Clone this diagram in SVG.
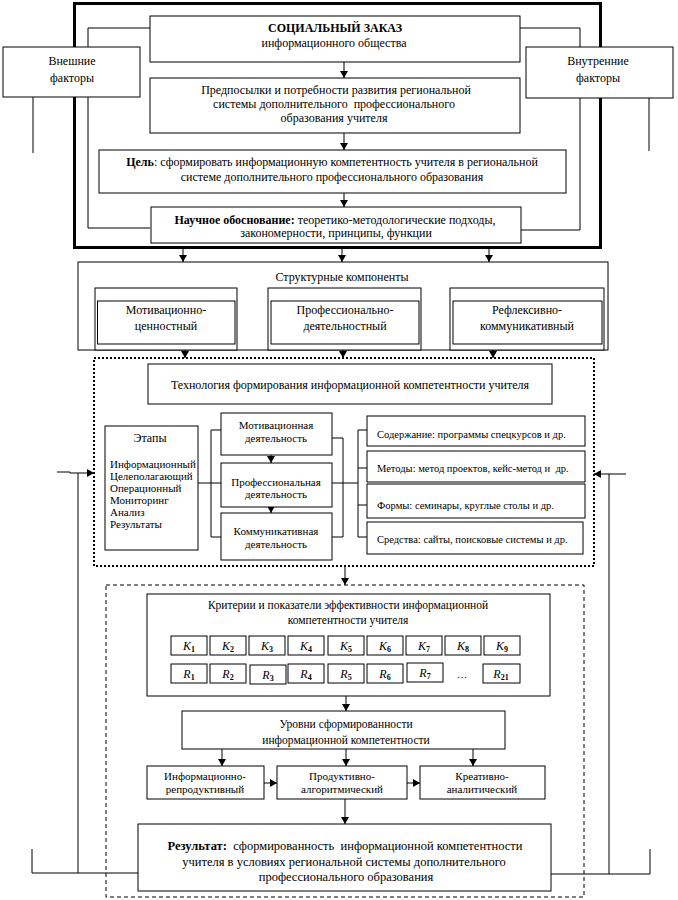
<svg xmlns="http://www.w3.org/2000/svg" width="678" height="900" viewBox="0 0 678 900" font-family="'Liberation Serif', 'Times New Roman', 'DejaVu Serif', serif">
<style>
text{font-family:"Liberation Serif","Times New Roman","DejaVu Serif",serif;font-size:12px;fill:#000;text-anchor:middle}
.s11{font-size:11px}
.s10{font-size:10.5px}
.l{text-anchor:start}
.b{font-weight:bold}
.box{fill:#fff;stroke:#000;stroke-width:1}
.ln{fill:none;stroke:#000;stroke-width:1}
.ar{fill:none;stroke:#000;stroke-width:1;marker-end:url(#ah)}
.dot{fill:none;stroke:#000;stroke-width:2;stroke-dasharray:2 2}
.dash{fill:none;stroke:#000;stroke-width:1;stroke-dasharray:4 3}
.k{font-style:italic;font-size:12px}
.sub{font-size:8px;font-weight:bold;font-style:normal}
</style>
<defs>
<marker id="ah" markerWidth="7" markerHeight="8" refX="7" refY="4" orient="auto" markerUnits="userSpaceOnUse">
<path d="M0,0 L7,4 L0,8 z" fill="#000"/>
</marker>
</defs>
<rect width="678" height="900" fill="#fff"/>

<g id="frame">
<rect x="74.5" y="3.5" width="526" height="244" fill="none" stroke="#000" stroke-width="3"/>
<rect x="78" y="262" width="530" height="88" class="box"/>
<rect x="94" y="358" width="500" height="208" class="dot"/>
<rect x="106" y="585" width="478" height="312" class="dash"/>
</g>

<g id="connectors">
<polyline class="ln" points="150,28 88,28 88,228 150,228"/>
<polyline class="ln" points="520,28 580,28 580,230 521,230"/>
<line class="ln" x1="33" y1="97" x2="33" y2="153"/>
<line class="ln" x1="649" y1="97" x2="649" y2="151"/>
<line class="ar" x1="344" y1="62" x2="344" y2="78"/>
<line class="ar" x1="344" y1="133" x2="344" y2="150"/>
<line class="ar" x1="344" y1="193" x2="344" y2="207"/>
<line class="ar" x1="183" y1="249" x2="183" y2="262"/>
<line class="ar" x1="342" y1="249" x2="342" y2="262"/>
<line class="ar" x1="489" y1="249" x2="489" y2="262"/>
<line class="ar" x1="185" y1="350" x2="185" y2="358"/>
<line class="ar" x1="343" y1="350" x2="343" y2="358"/>
<line class="ar" x1="493" y1="350" x2="493" y2="358"/>
<polyline class="ln" points="221,430 211,430 211,537 222,537"/>
<line class="ln" x1="198" y1="483" x2="221" y2="483"/>
<polyline class="ln" points="332,438 343,438 343,537 332,537"/>
<line class="ln" x1="332" y1="483" x2="358" y2="483"/>
<polyline class="ln" points="367,430 358,430 358,537 367,537"/>
<line class="ln" x1="358" y1="468" x2="367" y2="468"/>
<line class="ln" x1="358" y1="505" x2="367" y2="505"/>
<line class="ar" x1="271" y1="455" x2="271" y2="463"/>
<line class="ar" x1="271" y1="507" x2="271" y2="513"/>
<polyline class="ln" points="57,472 70,472 70,473 78,473"/>
<line class="ar" x1="78" y1="473" x2="94" y2="473"/>
<polyline class="ln" points="78,473 78,873 32,873 32,849"/>
<line class="ln" x1="78" y1="873" x2="138" y2="873"/>
<line class="ar" x1="626" y1="474" x2="594" y2="474"/>
<polyline class="ln" points="609,474 609,874 551,874"/>
<polyline class="ln" points="609,874 650,874 650,849"/>
<line class="ar" x1="345" y1="566" x2="345" y2="585"/>
<line class="ar" x1="346" y1="696" x2="346" y2="711"/>
<line class="ar" x1="222" y1="749" x2="222" y2="766"/>
<line class="ar" x1="346" y1="749" x2="346" y2="766"/>
<line class="ar" x1="473" y1="749" x2="473" y2="766"/>
<line class="ar" x1="264" y1="783" x2="277" y2="783"/>
<line class="ar" x1="407" y1="783" x2="420" y2="783"/>
<line class="ar" x1="345" y1="799" x2="345" y2="824"/>
</g>

<g id="n-social">
<rect x="150" y="16" width="370" height="46" class="box"/>
<text x="335" y="32" class="b">СОЦИАЛЬНЫЙ ЗАКАЗ</text>
<text x="334" y="47">информационного общества</text>
</g>
<g id="n-external">
<rect x="3" y="47" width="137" height="50" class="box"/>
<text x="72" y="65">Внешние</text>
<text x="72" y="82">факторы</text>
</g>
<g id="n-internal">
<rect x="526" y="47" width="147" height="51" class="box"/>
<text x="598" y="65">Внутренние</text>
<text x="598" y="82">факторы</text>
</g>
<g id="n-prereq">
<rect x="150" y="78" width="370" height="55" class="box"/>
<text x="336" y="94">Предпосылки и потребности развития региональной</text>
<text x="334" y="108" xml:space="preserve">системы дополнительного  профессионального</text>
<text x="334" y="122">образования учителя</text>
</g>
<g id="n-goal">
<rect x="99" y="150" width="467" height="43" class="box"/>
<text x="332" y="166"><tspan class="b">Цель</tspan>: сформировать информационную компетентность учителя в региональной</text>
<text x="332" y="181">системе дополнительного профессионального образования</text>
</g>
<g id="n-science">
<rect x="151" y="207" width="370" height="36" class="box"/>
<text x="335" y="224"><tspan class="b">Научное обоснование:</tspan> теоретико-методологические подходы,</text>
<text x="336" y="237">закономерности, принципы, функции</text>
</g>

<g id="n-structure">
<text x="342" y="281">Структурные компоненты</text>
<rect x="95" y="288" width="142" height="62" class="box"/>
<rect x="97.5" y="301" width="137.5" height="43" class="box"/>
<text x="166" y="314">Мотивационно-</text>
<text x="166" y="330">ценностный</text>
<rect x="268" y="288" width="153" height="62" class="box"/>
<rect x="271" y="301" width="148" height="43" class="box"/>
<text x="345" y="314">Профессионально-</text>
<text x="345" y="330">деятельностный</text>
<rect x="450" y="288" width="154" height="62" class="box"/>
<rect x="453" y="301" width="149" height="43" class="box"/>
<text x="527" y="314">Рефлексивно-</text>
<text x="527" y="330">коммуникативный</text>
</g>

<g id="n-tech">
<rect x="148" y="364" width="404" height="40" class="box"/>
<text x="350" y="389">Технология формирования информационной компетентности учителя</text>
</g>
<g id="n-stages">
<rect x="105" y="426" width="93" height="124" class="box"/>
<text x="150" y="442">Этапы</text>
<text x="110" y="468" class="s11 l">Информационный</text>
<text x="110" y="480" class="s11 l">Целеполагающий</text>
<text x="110" y="492" class="s11 l">Операционный</text>
<text x="110" y="504" class="s11 l">Мониторинг</text>
<text x="110" y="516" class="s11 l">Анализ</text>
<text x="110" y="528" class="s11 l">Результаты</text>
</g>
<g id="n-motiv">
<rect x="221" y="413" width="111" height="42" class="box"/>
<text x="276" y="429" class="s11">Мотивационная</text>
<text x="276" y="442" class="s11">деятельность</text>
</g>
<g id="n-prof">
<rect x="221" y="463" width="111" height="44" class="box"/>
<text x="276" y="486" class="s11">Профессиональная</text>
<text x="276" y="498" class="s11">деятельность</text>
</g>
<g id="n-comm">
<rect x="221" y="513" width="111" height="47" class="box"/>
<text x="276" y="535" class="s11">Коммуникативная</text>
<text x="276" y="548" class="s11">деятельность</text>
</g>
<g id="n-content">
<rect x="367" y="416" width="218" height="30" class="box"/>
<text x="377" y="438" class="s10 l">Содержание: программы спецкурсов и др.</text>
</g>
<g id="n-methods">
<rect x="367" y="451" width="218" height="31" class="box"/>
<text x="377" y="472" class="s10 l" xml:space="preserve">Методы: метод проектов, кейс-метод и  др.</text>
</g>
<g id="n-forms">
<rect x="367" y="484" width="218" height="34" class="box"/>
<text x="377" y="509" class="s10 l">Формы: семинары, круглые столы и др.</text>
</g>
<g id="n-means">
<rect x="367" y="522" width="216" height="32" class="box"/>
<text x="377" y="543" class="s10 l">Средства: сайты, поисковые системы и др.</text>
</g>

<g id="n-criteria">
<rect x="147" y="594" width="403" height="102" class="box"/>
<text x="348" y="609" style="font-size:11.5px">Критерии и показатели эффективности информационной</text>
<text x="348" y="624" style="font-size:11.5px">компетентности учителя</text>
<rect x="171" y="636" width="36" height="19" class="box"/><text x="189" y="650" class="k">K<tspan class="sub" dy="2">1</tspan></text>
<rect x="210" y="636" width="36" height="19" class="box"/><text x="228" y="650" class="k">K<tspan class="sub" dy="2">2</tspan></text>
<rect x="249" y="636" width="36" height="19" class="box"/><text x="267" y="650" class="k">K<tspan class="sub" dy="2">3</tspan></text>
<rect x="288" y="636" width="36" height="19" class="box"/><text x="306" y="650" class="k">K<tspan class="sub" dy="2">4</tspan></text>
<rect x="328" y="636" width="36" height="19" class="box"/><text x="346" y="650" class="k">K<tspan class="sub" dy="2">5</tspan></text>
<rect x="367" y="636" width="36" height="19" class="box"/><text x="385" y="650" class="k">K<tspan class="sub" dy="2">6</tspan></text>
<rect x="406" y="636" width="36" height="19" class="box"/><text x="424" y="650" class="k">K<tspan class="sub" dy="2">7</tspan></text>
<rect x="445" y="636" width="36" height="19" class="box"/><text x="463" y="650" class="k">K<tspan class="sub" dy="2">8</tspan></text>
<rect x="484" y="636" width="36" height="19" class="box"/><text x="502" y="650" class="k">K<tspan class="sub" dy="2">9</tspan></text>
<rect x="171" y="664" width="36" height="19" class="box"/><text x="189" y="678" class="k">R<tspan class="sub" dy="2">1</tspan></text>
<rect x="210" y="664" width="36" height="19" class="box"/><text x="228" y="678" class="k">R<tspan class="sub" dy="2">2</tspan></text>
<rect x="250" y="665" width="36" height="19" class="box"/><text x="268" y="679" class="k">R<tspan class="sub" dy="2">3</tspan></text>
<rect x="288" y="664" width="36" height="19" class="box"/><text x="306" y="678" class="k">R<tspan class="sub" dy="2">4</tspan></text>
<rect x="328" y="664" width="36" height="19" class="box"/><text x="346" y="678" class="k">R<tspan class="sub" dy="2">5</tspan></text>
<rect x="367" y="664" width="36" height="19" class="box"/><text x="385" y="678" class="k">R<tspan class="sub" dy="2">6</tspan></text>
<rect x="407" y="663" width="36" height="19" class="box"/><text x="425" y="677" class="k">R<tspan class="sub" dy="2">7</tspan></text>
<text x="462" y="678" class="s10">…</text>
<rect x="483" y="664" width="37" height="19" class="box"/><text x="501" y="678" class="k">R<tspan class="sub" dy="2">21</tspan></text>
</g>

<g id="n-levels">
<rect x="182" y="711" width="323" height="38" class="box"/>
<text x="346" y="728" style="font-size:11.5px">Уровни сформированности</text>
<text x="346" y="744" style="font-size:11.5px">информационной компетентности</text>
</g>
<g id="n-level1">
<rect x="147" y="766" width="117" height="33" class="box"/>
<text x="205" y="780" class="s11">Информационно-</text>
<text x="205" y="793" class="s11">репродуктивный</text>
</g>
<g id="n-level2">
<rect x="277" y="766" width="130" height="33" class="box"/>
<text x="342" y="780" class="s11">Продуктивно-</text>
<text x="342" y="793" class="s11">алгоритмический</text>
</g>
<g id="n-level3">
<rect x="420" y="766" width="125" height="33" class="box"/>
<text x="482" y="780" class="s11">Креативно-</text>
<text x="482" y="793" class="s11">аналитический</text>
</g>
<g id="n-result">
<rect x="138" y="824" width="413" height="67" class="box"/>
<text x="345" y="850" style="font-size:12.5px" xml:space="preserve"><tspan class="b">Результат:</tspan>  сформированность  информационной компетентности</text>
<text x="344" y="866" style="font-size:12.5px">учителя в условиях региональной системы дополнительного</text>
<text x="346" y="881" style="font-size:12.5px">профессионального образования</text>
</g>
</svg>
